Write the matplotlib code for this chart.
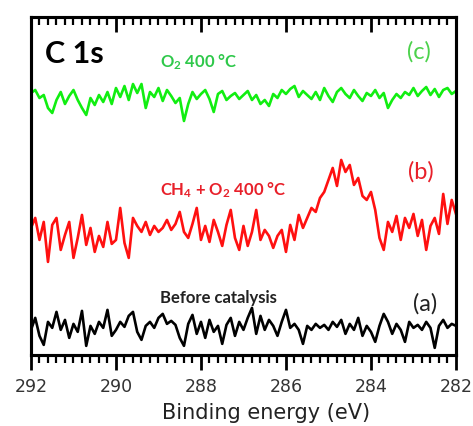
import numpy as np
import matplotlib
matplotlib.use("Agg")
import matplotlib.pyplot as plt
from matplotlib.ticker import MultipleLocator

# binding energy grid (eV), 0.1 eV steps from 292 down to 282
energy = np.linspace(292, 282, 101)

# C 1s intensities (a.u.), spectra already stacked
before_catalysis = [
    27, 39, 21, 12, 35, 29, 45, 27, 37, 19,
    33, 25, 46, 11, 31, 23, 35, 29, 47, 21,
    27, 35, 30, 41, 45, 25, 17, 31, 35, 29,
    39, 43, 33, 36, 32, 19, 11, 33, 42, 23,
    35, 19, 37, 25, 31, 13, 32, 39, 21, 35,
    27, 39, 49, 23, 41, 27, 37, 31, 21, 35,
    47, 29, 33, 27, 13, 31, 27, 33, 29, 32,
    27, 35, 30, 37, 23, 33, 27, 39, 21, 31,
    25, 15, 31, 43, 35, 23, 33, 27, 15, 35,
    29, 32, 27, 35, 29, 9, 31, 37, 29, 33, 31,
]
ch4_o2_400 = [
    129, 139, 117, 135, 95, 132, 139, 107, 122, 135,
    99, 119, 142, 112, 129, 105, 121, 110, 135, 113,
    117, 149, 114, 99, 139, 131, 125, 135, 122, 131,
    125, 129, 137, 127, 133, 145, 125, 119, 133, 149,
    117, 131, 115, 137, 125, 111, 132, 147, 119, 107,
    131, 111, 125, 147, 117, 127, 121, 109, 121, 127,
    105, 132, 117, 142, 129, 139, 149, 145, 159, 165,
    177, 189, 171, 197, 185, 192, 172, 179, 161, 157,
    165, 147, 119, 107, 135, 125, 141, 117, 139, 129,
    143, 121, 137, 107, 131, 139, 123, 163, 133, 157, 143,
]
o2_400 = [
    264, 267, 259, 262, 249, 244, 257, 265, 253, 261,
    267, 257, 249, 242, 259, 252, 262, 255, 265, 253,
    269, 260, 271, 257, 273, 264, 273, 249, 265, 260,
    269, 256, 267, 261, 254, 259, 236, 253, 265, 258,
    263, 267, 258, 245, 263, 266, 257, 261, 264, 258,
    262, 266, 257, 262, 253, 257, 251, 263, 259, 267,
    263, 268, 271, 260, 266, 262, 258, 265, 257, 269,
    261, 255, 265, 269, 263, 259, 267, 261, 256, 264,
    261, 267, 259, 264, 249, 257, 263, 259, 265, 262,
    269, 261, 266, 270, 262, 268, 260, 267, 269, 263, 266,
]

fig = plt.figure(figsize=(4.73, 4.26), dpi=100)
ax = fig.add_axes([0.0655, 0.167, 0.8985, 0.793])

ax.plot(energy, before_catalysis, color="black", lw=1.9)
ax.plot(energy, ch4_o2_400, color="#ff1010", lw=1.9)
ax.plot(energy, o2_400, color="#11ee11", lw=1.9)

ax.set_xlim(292, 282)
ax.set_ylim(2, 340)
ax.set_yticks([])

for s in ax.spines.values():
    s.set_linewidth(2.2)

ax.xaxis.set_major_locator(MultipleLocator(2))
ax.xaxis.set_minor_locator(MultipleLocator(0.2))
ax.tick_params(axis="x", which="major", direction="out", length=11, width=2,
               pad=6, labelsize=12.5, labelcolor="#333333")
ax.tick_params(axis="x", which="minor", direction="out", length=5.5, width=1.6)

# inward ticks along the top edge
top = ax.twiny()
top.set_xlim(ax.get_xlim())
top.xaxis.set_major_locator(MultipleLocator(2))
top.xaxis.set_minor_locator(MultipleLocator(0.2))
top.tick_params(axis="x", which="major", direction="in", length=11, width=2, labeltop=False)
top.tick_params(axis="x", which="minor", direction="in", length=5.5, width=1.6)
top.set_yticks([])
for s in top.spines.values():
    s.set_linewidth(2.2)

ax.set_xlabel("Binding energy (eV)", fontsize=15, color="#222222")
ax.xaxis.set_label_coords(0.553, -0.142)

lbl = dict(family="Lato", transform=ax.transAxes)
ax.text(0.033, 0.864, "C 1s", fontsize=22, fontweight="bold", va="baseline", **lbl)
ax.text(0.3035, 0.852, "O$\\mathregular{_2}$ 400 °C", fontsize=12, fontweight="bold",
        color="#2ec84a", va="baseline", **lbl)
ax.text(0.885, 0.896, "(c)", fontsize=17, color="#4cd24c", va="center", **lbl)
ax.text(0.3035, 0.473, "CH$\\mathregular{_4}$ + O$\\mathregular{_2}$ 400 °C", fontsize=12,
        fontweight="bold", color="#e8202a", va="baseline", **lbl)
ax.text(0.887, 0.541, "(b)", fontsize=17, color="#e8202a", va="center", **lbl)
ax.text(0.3035, 0.154, "Before catalysis", fontsize=12, fontweight="bold",
        color="#222222", va="baseline", **lbl)
ax.text(0.899, 0.151, "(a)", fontsize=17, color="#222222", va="center", **lbl)

fig.savefig("out.png", dpi=100)
